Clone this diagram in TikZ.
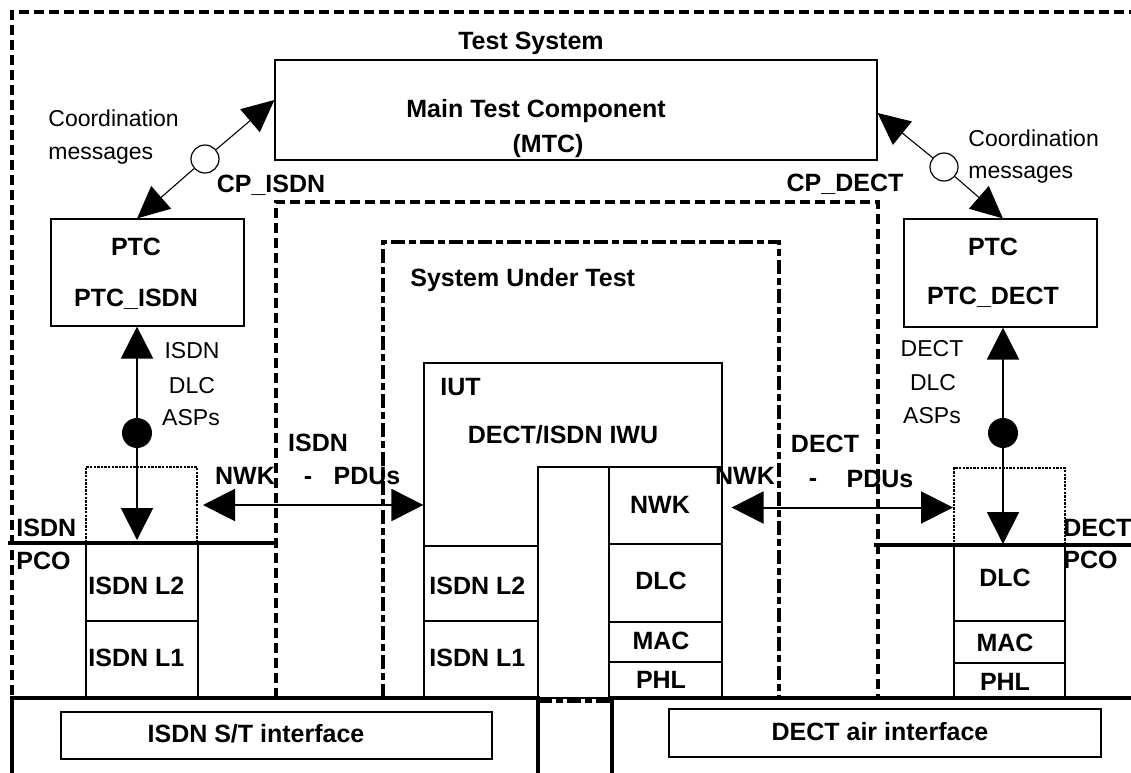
\documentclass[tikz,border=0pt]{standalone}
\usepackage{fontspec}
\setmainfont{Liberation Sans}
\usetikzlibrary{arrows.meta,fit,calc}
\begin{document}
\begin{tikzpicture}[x=0.5pt,y=-0.5pt,
  box/.style={draw, line width=0.6pt, inner sep=0pt},
  dotbox/.style={draw, line width=1pt, dash pattern=on 1.2pt off 0.6pt, inner sep=0pt},
  bl/.style={font=\bfseries\fontsize{12.5}{14}\selectfont, inner sep=0pt, text height=9pt, text depth=0pt},
  rl/.style={font=\fontsize{11.5}{13}\selectfont, inner sep=0pt, text height=8.3pt, text depth=0pt},
  outerdash/.style={line width=1.7pt, dash pattern=on 5pt off 2.5pt},
  sutdash/.style={line width=1.9pt, dash pattern=on 7pt off 2pt on 3.5pt off 2pt},
  heavy/.style={line width=1.7pt},
  coord/.style={line width=0.55pt, -{Triangle[length=16pt,width=15pt]}},
  asp/.style={line width=1pt, -{Triangle[length=16pt,width=16pt]}},
  pdu/.style={line width=1pt, {Triangle[length=16pt,width=16pt]}-{Triangle[length=16pt,width=16pt]}},
  port/.style={circle, draw, fill=white, line width=0.6pt, minimum size=14pt, inner sep=0pt},
  pcopt/.style={circle, fill=black, minimum size=15pt, inner sep=0pt},
]
\useasboundingbox (0,0) rectangle (1131,772);

% boundaries
\draw[outerdash] (12,695) -- (12,12) -- (1140,12);
\draw[outerdash] (276,698) -- (276,202) -- (878,202) -- (878,698);
\draw[sutdash] (383,698) -- (383,242) -- (779,242) -- (779,698);
\draw[sutdash] (538,701) -- (612,701);

% boxes
\node[box, fit={(275,60) (877,160)}] (mtc) {};
\node[box, fit={(51,219) (244,326)}] (ptcI) {};
\node[box, fit={(904,219) (1097,327)}] (ptcD) {};
\node[dotbox, fit={(86,467) (197,543)}] (dotI) {};
\node[dotbox, fit={(954,468) (1065,545)}] (dotD) {};
\node[box, fit={(86,543) (198,621)}] (l2a) {};
\node[box, fit={(86,621) (198,698)}] (l1a) {};
\node[box, fit={(424,363) (722,698)}] (iut) {};
\node[box, fit={(424,546) (538,621)}] (l2b) {};
\node[box, fit={(424,621) (538,698)}] (l1b) {};
\node[box, fit={(538,467) (609,698)}] (gap) {};
\node[box, fit={(609,467) (722,544)}] (nwk) {};
\node[box, fit={(609,544) (722,622)}] (dlcb) {};
\node[box, fit={(609,622) (722,662)}] (macb) {};
\node[box, fit={(609,662) (722,698)}] (phlb) {};
\node[box, fit={(954,545) (1065,621)}] (dlcc) {};
\node[box, fit={(954,621) (1065,663)}] (macc) {};
\node[box, fit={(954,663) (1065,698)}] (phlc) {};
\node[box, fit={(61,712) (492,759)}] (stI) {};
\node[box, fit={(669,709) (1101,757)}] (airD) {};

% heavy lines
\draw[heavy] (8,543) -- (276,543);
\draw[heavy] (874,545) -- (1140,545);
\draw[heavy] (12,780) -- (12,698) -- (538,698) -- (538,780);
\draw[heavy] (612,780) -- (612,698) -- (1140,698);

% coordination arrows
\node[port] (c1) at (205,159) {};
\node[port] (c2) at (944,167) {};
\draw[coord] (c1) -- ([xshift=-5.2pt]ptcI.north);
\draw[coord] (c1) -- ([yshift=5pt]mtc.west);
\draw[coord] (c2) -- ([xshift=1.2pt]ptcD.north);
\draw[coord] (c2) -- ([yshift=-1.5pt]mtc.east);

% ASP arrows
\node[pcopt] (p1) at (137,433) {};
\node[pcopt] (p2) at (1003,433) {};
\draw[asp] (p1) -- (p1 |- ptcI.south);
\draw[asp, shorten >=2pt] (p1) -- (p1 |- dotI.south);
\draw[asp] (p2) -- (p2 |- ptcD.south);
\draw[asp, shorten >=1pt] (p2) -- (p2 |- dotD.south);

% PDU arrows
\draw[pdu, shorten <=2.5pt] (dotI.east) -- (dotI.east -| iut.west);
\draw[pdu, shorten <=4.5pt] ([yshift=-1pt]nwk.east) -- ([yshift=-1pt]nwk.east -| dotD.west);

% texts
\node[bl] (tTS) at (531,40) {Test System};
\node[bl] (tMTC1) at (536,108) {Main Test Component};
\node[bl] (tMTC2) at (548,143) {(MTC)};
\node[rl, anchor=west] (tCo1) at (48,118) {Coordination};
\node[rl, anchor=west] (tCo2) at (48,151) {messages};
\node[rl, anchor=west] (tCo3) at (968,138) {Coordination};
\node[rl, anchor=west] (tCo4) at (968,170) {messages};
\node[bl] (tCPI) at (271,183) {CP\_ISDN};
\node[bl] (tCPD) at (845,182) {CP\_DECT};
\node[bl] (tP1) at (136,246) {PTC};
\node[bl] (tP2) at (136,297) {PTC\_ISDN};
\node[bl] (tP3) at (993,246) {PTC};
\node[bl] (tP4) at (993,295) {PTC\_DECT};
\node[rl] (tA1) at (192,350) {ISDN};
\node[rl] (tA2) at (192,385) {DLC};
\node[rl] (tA3) at (191,417) {ASPs};
\node[rl] (tA4) at (932,348) {DECT};
\node[rl] (tA5) at (933,382) {DLC};
\node[rl] (tA6) at (932,415) {ASPs};
\node[bl, anchor=west] (tSUT) at (410,277) {System Under Test};
\node[bl, anchor=west] (tIUT) at (440,386) {IUT};
\node[bl] (tIWU) at (563,434) {DECT/ISDN IWU};
\node[bl] (tNWK) at (660,504) {NWK};
\node[bl, anchor=west] (tL2a) at (88,585) {ISDN L2};
\node[bl, anchor=west] (tL1a) at (88,657) {ISDN L1};
\node[bl, anchor=west] (tL2b) at (429,585) {ISDN L2};
\node[bl, anchor=west] (tL1b) at (429,657) {ISDN L1};
\node[bl] (tDLCb) at (661,580) {DLC};
\node[bl] (tMACb) at (661,640) {MAC};
\node[bl] (tPHLb) at (661,679) {PHL};
\node[bl] (tDLCc) at (1005,577) {DLC};
\node[bl] (tMACc) at (1005,642) {MAC};
\node[bl] (tPHLc) at (1005,681) {PHL};
\node[bl, anchor=west] (tPI1) at (16,527) {ISDN};
\node[bl, anchor=west] (tPI2) at (16,560) {PCO};
\node[bl, anchor=west] (tPD1) at (1063,527) {DECT};
\node[bl, anchor=west] (tPD2) at (1063,559) {PCO};
\node[bl] (tN1) at (318,442) {ISDN};
\node[bl] (tN2) at (245,475) {NWK};
\node[bl] (tN3) at (308,475) {-};
\node[bl] (tN4) at (367,475) {PDUs};
\node[bl] (tN5) at (825,443) {DECT};
\node[bl] (tN6) at (745,475) {NWK};
\node[bl] (tN7) at (813,477) {-};
\node[bl] (tN8) at (880,478) {PDUs};
\node[bl] (tST) at (256,733) {ISDN S/T interface};
\node[bl] (tAir) at (880,731) {DECT air interface};
\end{tikzpicture}
\end{document}
